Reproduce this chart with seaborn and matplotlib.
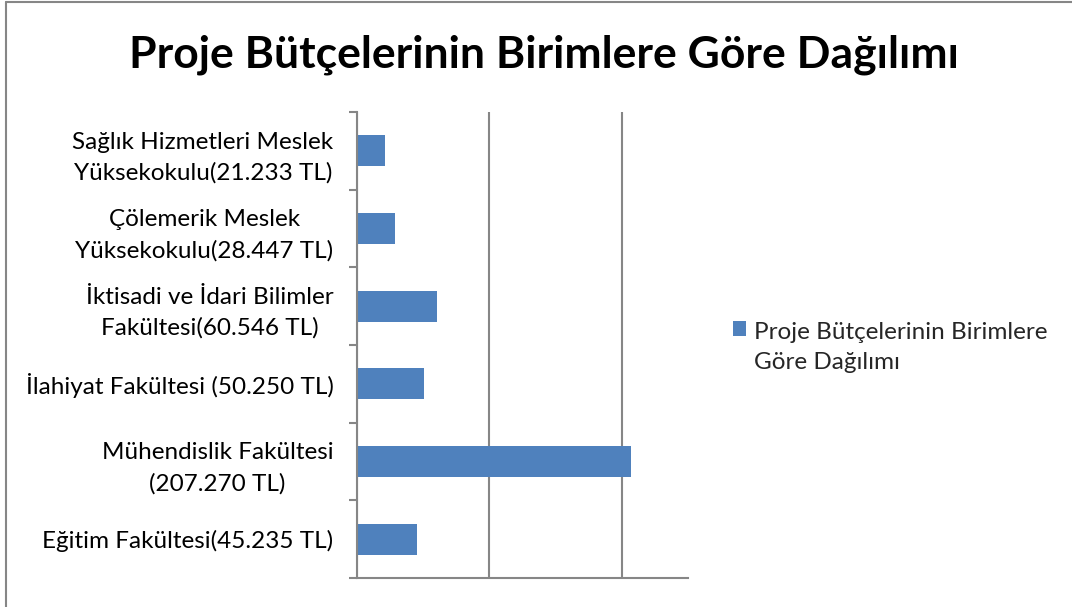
import matplotlib
matplotlib.use("Agg")
import matplotlib.pyplot as plt
import seaborn as sns
import pandas as pd
from matplotlib.patches import Rectangle
from matplotlib.lines import Line2D
from matplotlib.legend_handler import HandlerPatch
from matplotlib.container import BarContainer

# ---- data ----
title = "Proje Bütçelerinin Birimlere Göre Dağılımı"
categories = [
    "Sağlık Hizmetleri Meslek\nYüksekokulu(21.233 TL)",
    "Çölemerik Meslek\nYüksekokulu(28.447 TL)",
    "İktisadi ve İdari Bilimler\nFakültesi(60.546 TL)",
    "İlahiyat Fakültesi (50.250 TL)",
    "Mühendislik Fakültesi\n(207.270 TL)",
    "Eğitim Fakültesi(45.235 TL)",
]
values = [21233, 28447, 60546, 50250, 207270, 45235]
series_label = "Proje Bütçelerinin Birimlere\nGöre Dağılımı"
grid_ticks = [0, 100000, 200000]
x_max = 250000

BAR = "#4F81BD"
GRAY = "#868686"
FONT = ["Lato", "DejaVu Sans"]
FS = 17.5
LS = 1.55

sns.set_theme(style="white")
plt.rcParams["font.family"] = FONT

W, H = 1072, 607
fig = plt.figure(figsize=(W / 100, H / 100), dpi=100)
ax = fig.add_axes([357 / W, 1 - 578 / H, (688 - 357) / W, (578 - 112) / H])

df = pd.DataFrame({"unit": categories, "value": values})
sns.barplot(data=df, x="value", y="unit", orient="h", color=BAR,
            saturation=1, width=0.4, ax=ax, edgecolor="none")

ax.set_xlim(0, x_max)
ax.set_ylim(len(categories) - 0.5, -0.5)
ax.set_xlabel("")
ax.set_ylabel("")

# x: vertical gridlines, no labels
ax.set_xticks(grid_ticks)
ax.set_xticklabels([])
ax.tick_params(axis="x", length=0)
ax.grid(axis="x", color=GRAY, linewidth=1.5)
ax.set_axisbelow(True)

# y: category boundary ticks
ax.set_yticks([i - 0.5 for i in range(len(categories) + 1)], minor=True)
ax.tick_params(axis="y", which="minor", length=6, width=1.5, color=GRAY,
               direction="out", left=True)
ax.tick_params(axis="y", which="major", length=0, pad=17, labelsize=FS,
               labelcolor="black")
for lab in ax.get_yticklabels():
    lab.set_multialignment("center")
    lab.set_linespacing(LS)

for s in ["top", "right"]:
    ax.spines[s].set_visible(False)
for s in ["left", "bottom"]:
    ax.spines[s].set_color(GRAY)
    ax.spines[s].set_linewidth(1.5)


class TopSquare(HandlerPatch):
    def _create_patch(self, legend, orig_handle, xdescent, ydescent,
                      width, height, fontsize):
        return Rectangle(xy=(-xdescent, -ydescent + 0.5 * LS * fontsize),
                         width=width, height=height)


leg = ax.legend([ax.containers[0]], [series_label],
                handler_map={BarContainer: TopSquare(
                    update_func=lambda h, o: h.update_from(o.patches[0]))},
                loc="upper left", bbox_to_anchor=(733 / W, 1 - 322 / H),
                bbox_transform=fig.transFigure, frameon=False,
                fontsize=FS, handlelength=0.55, handleheight=0.55,
                handletextpad=0.33, borderpad=0, borderaxespad=0)
for t in leg.get_texts():
    t.set_linespacing(LS)

fig.text(544 / W, 1 - 55 / H, title, ha="center", va="center",
         fontsize=32, fontweight="bold", color="black")

# chart area border (left and top edges visible)
fig.add_artist(Line2D([6 / W, 6 / W], [0, 1 - 2 / H],
                      transform=fig.transFigure, color=GRAY, linewidth=1.5))
fig.add_artist(Line2D([6 / W, 1.0], [1 - 2 / H, 1 - 2 / H],
                      transform=fig.transFigure, color=GRAY, linewidth=1.5))

fig.savefig("out.png", dpi=100, facecolor="white")
